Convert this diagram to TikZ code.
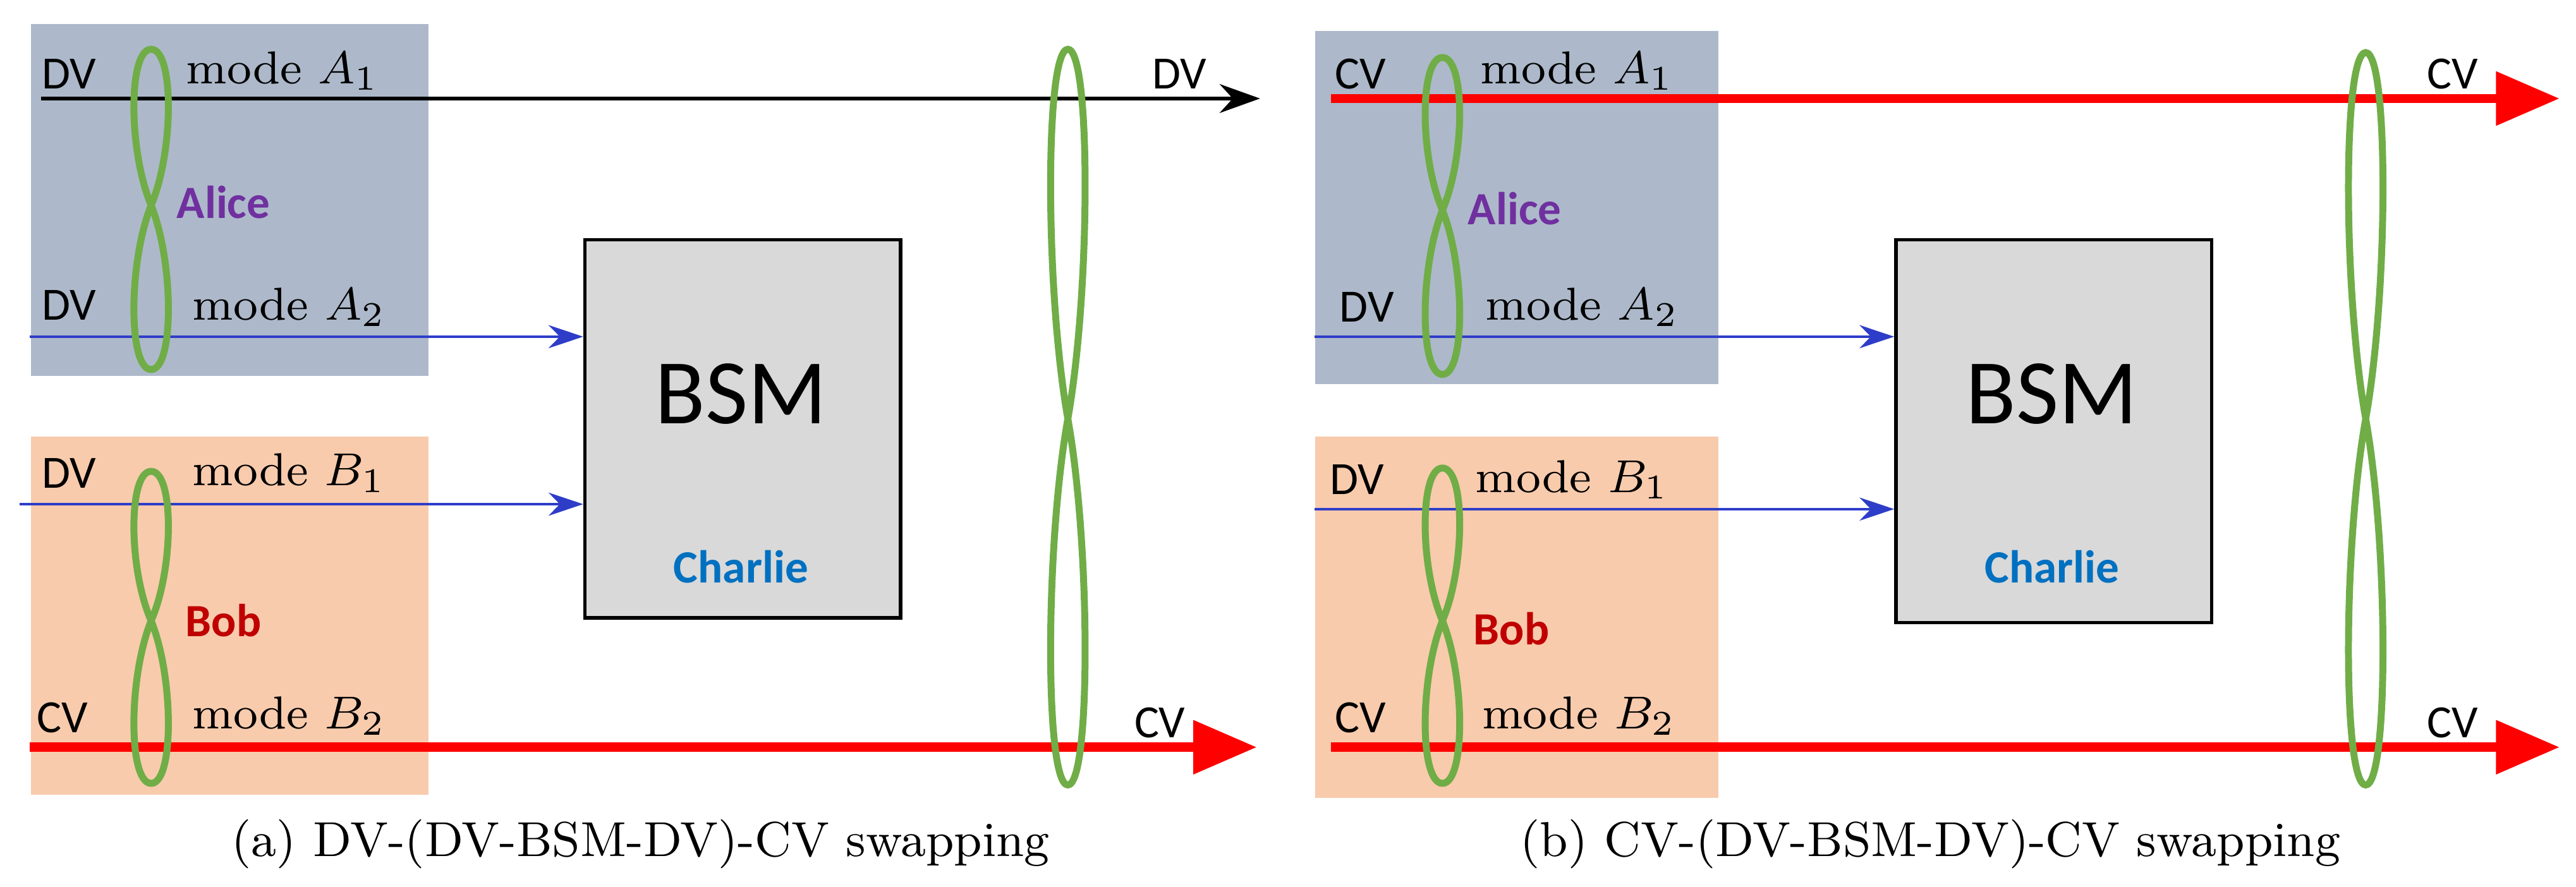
\documentclass[tikz,border=0pt]{standalone}
\usepackage{fontspec}
\newfontfamily\sans{Carlito}
\usetikzlibrary{arrows.meta}
\definecolor{alicebg}{HTML}{ADB9CA}
\definecolor{bobbg}{HTML}{F8CBAD}
\definecolor{bsmbg}{HTML}{D9D9D9}
\definecolor{loopg}{HTML}{70AD47}
\definecolor{alicec}{HTML}{7030A0}
\definecolor{bobc}{HTML}{C00000}
\definecolor{charc}{HTML}{0070C0}
\definecolor{bluel}{HTML}{2E3DC8}
\begin{document}
\begin{tikzpicture}[x=0.01cm,y=-0.01cm,
  lab/.style={font=\sans\fontsize{8}{9}\selectfont,inner sep=0pt},
  mlab/.style={font=\fontsize{8}{9}\selectfont,inner sep=0pt},
  dvline/.style={draw=black,line width=0.6pt,-{Stealth[length=7pt,width=5pt]}},
  blline/.style={draw=bluel,line width=0.5pt,-{Stealth[length=6pt,width=4pt]}},
  cvline/.style={draw=red,line width=1.6pt,-{Triangle[length=11pt,width=9pt]}},
  lp/.style={draw=loopg,line width=1.2pt},
  capt/.style={font=\fontsize{8.5}{10}\selectfont,inner sep=0pt}]
\useasboundingbox (0,0) rectangle (1568,540);
\newcommand\figeight[4]{% cx, top, mid, bottom
  \draw[lp] (#1,#3) .. controls (#1+14,#3-0.35*#3+0.35*#2) and (#1+14,#2) .. (#1,#2)
     .. controls (#1-14,#2) and (#1-14,#3-0.35*#3+0.35*#2) .. (#1,#3)
     .. controls (#1+14,#3+0.35*#4-0.35*#3) and (#1+14,#4) .. (#1,#4)
     .. controls (#1-14,#4) and (#1-14,#3+0.35*#4-0.35*#3) .. cycle;}
% ---------- panel (a)
\node[fill=alicebg,minimum width=2.42cm,minimum height=2.14cm,inner sep=0,anchor=north west] (aA) at (18,14) {};
\node[fill=bobbg,minimum width=2.42cm,minimum height=2.18cm,inner sep=0,anchor=north west] (aB) at (18,265) {};
\node[draw=black,fill=bsmbg,line width=0.6pt,minimum width=1.92cm,minimum height=2.30cm,inner sep=0,anchor=north west] (aS) at (355,145) {};
\node[font=\sans\fontsize{16}{18}\selectfont] (aSt) at (451,240) {BSM};
\node[lab,text=charc,font=\sans\bfseries\fontsize{8}{9}\selectfont] (aCh) at (451,345) {Charlie};
\coordinate (a1s) at (25,60); \coordinate (a1e) at (767,60);
\coordinate (a2s) at (18,205); \coordinate (b1s) at (12,307);
\coordinate (b2s) at (18,455); \coordinate (b2e) at (765,455);
\draw[dvline] (a1s) -- (a1e);
\draw[blline] (a2s) -- (aS.west |- a2s);
\draw[blline] (b1s) -- (aS.west |- b1s);
\draw[cvline] (b2s) -- (b2e);
\figeight{92}{30}{125}{225}
\figeight{92}{287}{378}{477}
\figeight{650}{30}{255}{478}
\node[lab] (t1) at (42,45) {DV}; \node[mlab] (m1) at (172,43) {mode $A_1$};
\node[lab] (t2) at (42,186) {DV}; \node[mlab] (m2) at (176,187) {mode $A_2$};
\node[lab] (t3) at (42,288) {DV}; \node[mlab] (m3) at (176,288) {mode $B_1$};
\node[lab] (t4) at (38,437) {CV}; \node[mlab] (m4) at (176,436) {mode $B_2$};
\node[lab] (t5) at (718,45) {DV}; \node[lab] (t6) at (706,440) {CV};
\node[lab,text=alicec,font=\sans\bfseries\fontsize{8}{9}\selectfont] (al) at (136,123) {Alice};
\node[lab,text=bobc,font=\sans\bfseries\fontsize{8}{9}\selectfont] (bo) at (136,378) {Bob};
\node[capt] (capa) at (390,514) {(a) DV-(DV-BSM-DV)-CV swapping};
% ---------- panel (b)
\node[fill=alicebg,minimum width=2.45cm,minimum height=2.15cm,inner sep=0,anchor=north west] (bA) at (800,18) {};
\node[fill=bobbg,minimum width=2.45cm,minimum height=2.20cm,inner sep=0,anchor=north west] (bB) at (800,265) {};
\node[draw=black,fill=bsmbg,line width=0.6pt,minimum width=1.92cm,minimum height=2.33cm,inner sep=0,anchor=north west] (bS) at (1153,145) {};
\node[font=\sans\fontsize{16}{18}\selectfont] (bSt) at (1249,240) {BSM};
\node[lab,text=charc,font=\sans\bfseries\fontsize{8}{9}\selectfont] (bCh) at (1249,345) {Charlie};
\coordinate (c1s) at (810,60); \coordinate (c1e) at (1558,60);
\coordinate (c2s) at (800,205); \coordinate (d1s) at (800,310);
\coordinate (d2s) at (810,455); \coordinate (d2e) at (1558,455);
\draw[cvline] (c1s) -- (c1e);
\draw[blline] (c2s) -- (bS.west |- c2s);
\draw[blline] (d1s) -- (bS.west |- d1s);
\draw[cvline] (d2s) -- (d2e);
\figeight{878}{35}{128}{228}
\figeight{878}{285}{378}{477}
\figeight{1440}{32}{255}{478}
\node[lab] (u1) at (828,45) {CV}; \node[mlab] (n1) at (960,43) {mode $A_1$};
\node[lab] (u2) at (832,187) {DV}; \node[mlab] (n2) at (963,187) {mode $A_2$};
\node[lab] (u3) at (826,292) {DV}; \node[mlab] (n3) at (957,292) {mode $B_1$};
\node[lab] (u4) at (828,437) {CV}; \node[mlab] (n4) at (961,436) {mode $B_2$};
\node[lab] (u5) at (1493,45) {CV}; \node[lab] (u6) at (1493,440) {CV};
\node[lab,text=alicec,font=\sans\bfseries\fontsize{8}{9}\selectfont] (bal) at (922,127) {Alice};
\node[lab,text=bobc,font=\sans\bfseries\fontsize{8}{9}\selectfont] (bbo) at (920,383) {Bob};
\node[capt] (capb) at (1175,514) {(b) CV-(DV-BSM-DV)-CV swapping};
\end{tikzpicture}
\end{document}
